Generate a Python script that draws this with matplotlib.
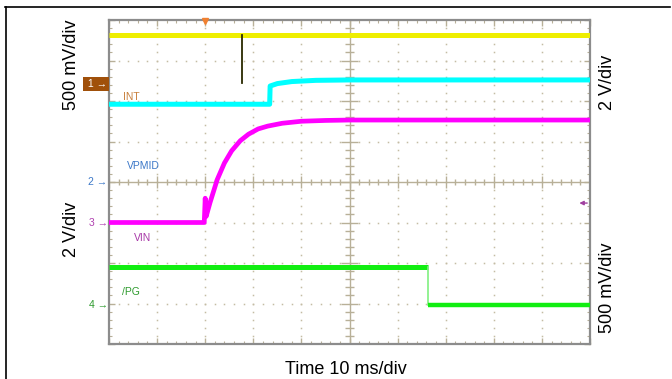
import numpy as np
import matplotlib
matplotlib.use("Agg")
import matplotlib.pyplot as plt
from matplotlib.lines import Line2D

plt.rcParams['font.family'] = ['Liberation Sans', 'DejaVu Sans']

# ---- data (time and level both in screen divisions) ----
ch1_t = [0, 2.75, 2.77, 10]
ch1_v = [7.63, 7.63, 7.63, 7.63]
ch1_spike_t = [2.76, 2.76]
ch1_spike_v = [7.63, 6.44]

int_t = [0, 3.34, 3.35, 3.5, 3.8, 4.3, 5.0, 10]
int_v = [5.92, 5.92, 6.37, 6.43, 6.48, 6.51, 6.52, 6.52]

vin_t = [0, 1.98, 2.0, 2.02, 2.1, 2.25, 2.4, 2.55, 2.73, 2.9, 3.1, 3.3, 3.6, 4.0, 4.5, 5.0, 10]
vin_v = [3.0, 3.0, 3.6, 3.15, 3.49, 4.06, 4.47, 4.77, 5.02, 5.18, 5.31, 5.38, 5.45, 5.5, 5.52, 5.53, 5.53]

pg_t = [0, 6.63, 6.63, 10]
pg_v = [1.9, 1.9, 0.96, 0.96]

fig = plt.figure(figsize=(6.72, 3.79), dpi=100)
W, H = 672, 379

def fx(px):
    return px / W

def fy(py):
    return 1 - py / H

ax = fig.add_axes([fx(109), fy(344), (590 - 109) / W, (344 - 20) / H])
ax.set_xlim(0, 10)
ax.set_ylim(0, 8)

# frame and ticks
for s in ax.spines.values():
    s.set_color('#8c8c8c')
    s.set_linewidth(1.6)
ax.set_xticks(np.arange(0, 10.01, 1))
ax.set_yticks(np.arange(0, 8.01, 1))
ax.set_xticks(np.arange(0, 10.01, 0.2), minor=True)
ax.set_yticks(np.arange(0, 8.01, 0.2), minor=True)
ax.tick_params(which='both', direction='in', top=True, right=True,
               labelbottom=False, labelleft=False, color='#b8b098')
ax.tick_params(which='major', length=4.5, width=1)
ax.tick_params(which='minor', length=2.5, width=0.8)

# dotted grid
dots_y = np.arange(0.2, 8, 0.2)
dots_x = np.arange(0.2, 10, 0.2)
for gx in range(1, 10):
    if gx != 5:
        ax.plot([gx] * len(dots_y), dots_y, ls='none', marker='s', ms=1.1,
                mew=0, color='#c4bca4', zorder=1)
for gy in range(1, 8):
    if gy != 4:
        ax.plot(dots_x, [gy] * len(dots_x), ls='none', marker='s', ms=1.1,
                mew=0, color='#c4bca4', zorder=1)

# center cross with ticks
ax.axhline(4, color='#b8b098', lw=1, zorder=1)
ax.axvline(5, color='#b8b098', lw=1, zorder=1)
for t in np.arange(0, 10.01, 0.2):
    h = 0.14 if abs(t - round(t)) < 1e-6 else 0.08
    ax.vlines(t, 4 - h, 4 + h, color='#b8b098', lw=1, zorder=1)
for t in np.arange(0, 8.01, 0.2):
    h = 0.17 if abs(t - round(t)) < 1e-6 else 0.1
    ax.hlines(t, 5 - h, 5 + h, color='#b8b098', lw=1, zorder=1)

# traces
ax.plot(ch1_t, ch1_v, color='#eeee00', lw=3.6, zorder=3, solid_capstyle='butt')
ax.plot(ch1_spike_t, ch1_spike_v, color='#2a2a00', lw=1.3, zorder=4)
ax.plot(int_t, int_v, color='#00ffff', lw=3.6, zorder=3, solid_capstyle='butt')
ax.plot(vin_t, vin_v, color='#ff00ff', lw=3.4, zorder=3, solid_capstyle='butt')
ax.plot(pg_t[:2], pg_v[:2], color='#12ee12', lw=3.6, zorder=3, solid_capstyle='butt')
ax.plot(pg_t[1:3], pg_v[1:3], color='#80f080', lw=1.2, zorder=3)
ax.plot(pg_t[2:], pg_v[2:], color='#12ee12', lw=3.2, zorder=3, solid_capstyle='butt')

# trace names
ax.text(0.29, 6.1, 'INT', color='#c8803c', fontsize=7.5, va='center')
ax.text(0.37, 4.4, 'VPMID', color='#3c78c8', fontsize=7.5, va='center')
ax.text(0.52, 2.62, 'VIN', color='#a838a8', fontsize=7.5, va='center')
ax.text(0.27, 1.28, '/PG', color='#2e9b2e', fontsize=7.5, va='center')

# trigger marker and channel markers
ax.plot([2.0], [7.97], marker='v', ms=5, color='#f08030', clip_on=False, zorder=5)
ax.text(-0.04, 6.42, ' 1 \u2192', color='white', fontsize=7.5, ha='right', va='center',
        bbox=dict(boxstyle='square,pad=0.2', fc='#a0500a', ec='none'),
        clip_on=False)
ax.text(-0.03, 4.0, '2 \u2192', color='#3c78c8', fontsize=7.5, ha='right', va='center')
ax.text(-0.03, 3.0, '3 \u2192', color='#b040b0', fontsize=7.5, ha='right', va='center')
ax.text(-0.03, 0.96, '4 \u2192', color='#2e9b2e', fontsize=7.5, ha='right', va='center')
ax.annotate('', xy=(9.72, 3.48), xytext=(10.0, 3.48),
            arrowprops=dict(arrowstyle='-|>', color='#a040a0', lw=1, mutation_scale=6))

# outer border (top and left only)
fig.add_artist(Line2D([fx(5), fx(670)], [fy(7), fy(7)], color='black', lw=1.2))
fig.add_artist(Line2D([fx(5.5), fx(5.5)], [fy(7), 0], color='black', lw=1.2))

# scale labels
fs = 13
fig.text(fx(72), fy(65), '500 mV/div', rotation=90, fontsize=fs, ha='center', va='center')
fig.text(fx(72), fy(229), '2 V/div', rotation=90, fontsize=fs, ha='center', va='center')
fig.text(fx(608), fy(82), '2 V/div', rotation=90, fontsize=fs, ha='center', va='center')
fig.text(fx(608), fy(288), '500 mV/div', rotation=90, fontsize=fs, ha='center', va='center')
fig.text(fx(346), fy(370), 'Time 10 ms/div', fontsize=fs, ha='center', va='center')

fig.savefig('out.png', dpi=100)
